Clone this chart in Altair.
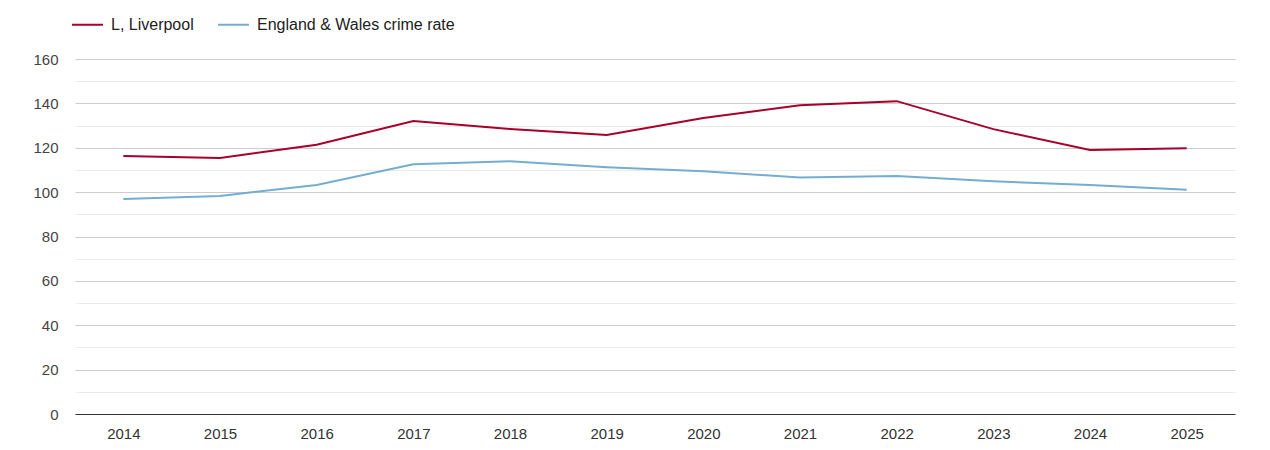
import altair as alt
import pandas as pd

years = [str(y) for y in range(2014, 2026)]
liverpool = [116.3, 115.4, 121.4, 132.0, 128.4, 125.7, 133.4, 139.2, 141.0, 128.4, 119.0, 119.8]
england_wales = [96.9, 98.3, 103.2, 112.6, 113.9, 111.2, 109.4, 106.6, 107.3, 104.9, 103.2, 101.1]
series_names = ["L, Liverpool", "England & Wales crime rate"]
colors = ["#a6002b", "#74add1"]
y_ticks = list(range(0, 161, 10))

rows = []
for name, vals in zip(series_names, [liverpool, england_wales]):
    for y, v in zip(years, vals):
        rows.append({"year": y, "value": v, "series": name})
df = pd.DataFrame(rows)

FONT = "Liberation Sans"

chart = alt.Chart(df).mark_line(strokeWidth=2).encode(
    x=alt.X("year:O", scale=alt.Scale(type="point", padding=0.5),
            axis=alt.Axis(title=None, labelAngle=0, ticks=False, domain=True,
                          domainColor="#333333", domainWidth=1, labelPadding=12,
                          labelFont=FONT, labelFontSize=15, labelColor="#333333", grid=False)),
    y=alt.Y("value:Q", scale=alt.Scale(domain=[0, 160], nice=False),
            axis=alt.Axis(title=None, values=y_ticks, ticks=False, domain=False,
                          labelExpr="datum.value % 20 == 0 ? datum.label : ''",
                          labelPadding=17, labelFont=FONT, labelFontSize=15,
                          labelColor="#444444",
                          gridColor={"condition": {"test": "datum.value % 20 == 0", "value": "#cccccc"}, "value": "#ebebeb"},
                          gridWidth=1)),
    color=alt.Color("series:N", sort=series_names,
                    scale=alt.Scale(domain=series_names, range=colors),
                    legend=alt.Legend(title=None, orient="none", direction="horizontal",
                                      legendX=-4, legendY=-51, symbolType="stroke",
                                      symbolSize=961, symbolStrokeWidth=2,
                                      labelFont=FONT, labelFontSize=16, labelColor="#222222",
                                      labelLimit=400, columnPadding=20, labelOffset=7)),
).properties(
    width=1160, height=355,
    padding={"left": 67, "top": 51, "right": 20, "bottom": 28},
    autosize=alt.AutoSizeParams(type="none"),
).configure_view(stroke=None)

chart.save("out.html", embed_options={"renderer": "svg", "actions": False})
